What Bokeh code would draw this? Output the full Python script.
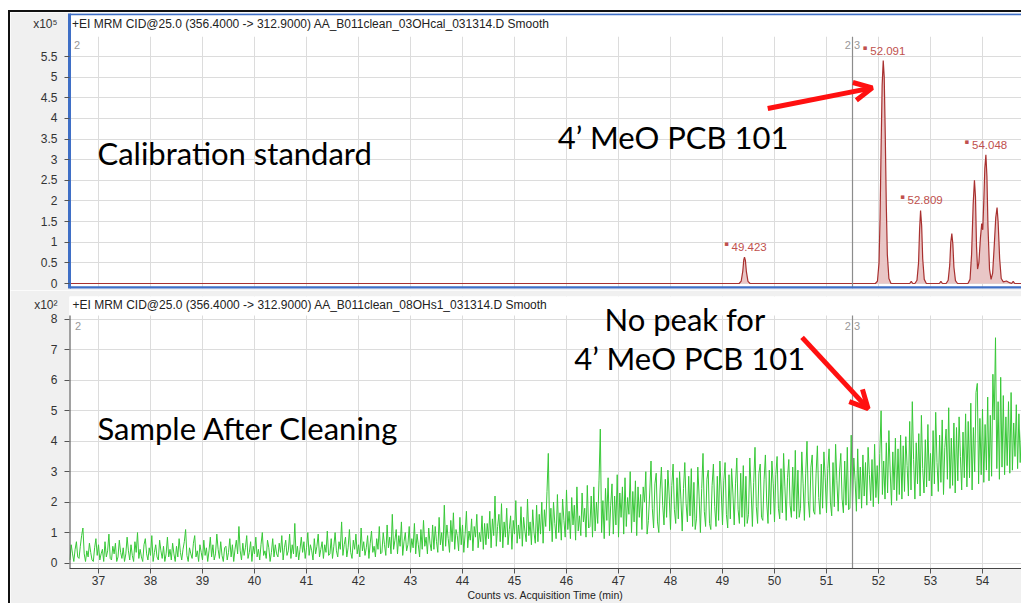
from bokeh.plotting import figure
from bokeh.layouts import column, row, Spacer
from bokeh.models import Range1d, FixedTicker, Span, Label, Arrow, OpenHead
from bokeh.core.properties import value
from bokeh.embed import file_html
from bokeh.resources import INLINE

# ---------------- data ----------------
X_TICKS = list(range(37, 55))
X_START, X_END = 36.442, 54.75
SEGMENT_BREAK = 51.5

TOP_Y_TICKS = [0, 0.5, 1, 1.5, 2, 2.5, 3, 3.5, 4, 4.5, 5, 5.5]
TOP_Y_LABELS = ["0", "0.5", "1", "1.5", "2", "2.5", "3", "3.5", "4", "4.5", "5", "5.5"]
BOT_Y_TICKS = [0, 1, 2, 3, 4, 5, 6, 7, 8]
BOT_Y_LABELS = ["0", "1", "2", "3", "4", "5", "6", "7", "8"]
TOP_SCALE_LABEL = "x10\u2075"
BOT_SCALE_LABEL = "x10\u00b2"

# calibration standard trace (counts x10^5)
TOP_TIME = [36.44, 49.32, 49.36, 49.39, 49.41, 49.423, 49.44, 49.46, 49.49, 49.53,
            51.94, 51.98, 52.01, 52.03, 52.05, 52.07, 52.091, 52.11, 52.13, 52.15, 52.17, 52.20, 52.24,
            52.60, 52.63, 52.66,
            52.70, 52.74, 52.77, 52.79, 52.809, 52.83, 52.85, 52.88, 52.92,
            53.17, 53.20, 53.23,
            53.30, 53.34, 53.37, 53.39, 53.41, 53.43, 53.45, 53.48, 53.52,
            53.72, 53.76, 53.79, 53.82, 53.845, 53.865, 53.885, 53.905, 53.93, 53.96, 53.985, 54.005,
            54.025, 54.045, 54.065, 54.085, 54.105, 54.135, 54.165, 54.195, 54.225, 54.255, 54.28, 54.30,
            54.33, 54.36, 54.40, 54.46, 54.52, 54.56, 54.59, 54.62, 54.75]
TOP_COUNTS = [0.0, 0.0, 0.06, 0.3, 0.58, 0.64, 0.56, 0.28, 0.05, 0.0,
              0.0, 0.06, 0.5, 1.6, 3.3, 4.8, 5.40, 5.0, 3.6, 1.9, 0.7, 0.12, 0.0,
              0.0, 0.05, 0.0,
              0.0, 0.08, 0.5, 1.3, 1.77, 1.4, 0.6, 0.1, 0.0,
              0.0, 0.05, 0.0,
              0.0, 0.08, 0.45, 1.0, 1.21, 0.95, 0.4, 0.07, 0.0,
              0.0, 0.1, 0.7, 1.9, 2.50, 2.1, 0.9, 0.35, 0.5, 1.1, 1.45, 1.3,
              2.0, 2.8, 3.12, 2.6, 1.4, 0.35, 0.1, 0.25, 0.9, 1.6, 1.84, 1.5,
              0.6, 0.12, 0.04, 0.06, 0.02, 0.0, 0.05, 0.0, 0.0]

PEAK_RT = [49.423, 52.091, 52.809, 54.048]
PEAK_HEIGHT = [0.64, 5.40, 1.77, 3.12]
PEAK_LABELS = ["49.423", "52.091", "52.809", "54.048"]

# sample after cleaning (counts x10^2), sampled every 0.025 min from 36.45
SAMPLE_START = 36.45
SAMPLE_STEP = 0.025
BOT_COUNTS = [
    0.1, 0.6, 0.3, 0.05, 0.45, 0.7, 0.2, 0.15, 0.55, 0.9, 1.15, 0.3, 0.05, 0.4, 0.2, 0.65, 0.35, 0.1, 0.05, 0.5,
    0.8, 0.25, 0.6, 0.1, 0.3, 0.45, 0.05, 0.7, 0.2, 0.4, 0.95, 0.15, 0.1, 0.55, 0.3, 0.65, 0.05, 0.2, 0.75, 0.35,
    0.15, 0.5, 0.05, 0.3, 0.85, 0.4, 0.1, 0.6, 0.25, 0.05, 0.7, 0.35, 1.0, 0.15, 0.45, 0.2, 0.05, 0.6, 0.8, 0.3,
    0.1, 0.5, 0.25, 0.9, 0.05, 0.35, 0.6, 0.2, 0.1, 0.75, 0.4, 0.15, 0.55, 0.05, 0.3, 0.85, 0.2, 0.45, 0.1, 0.65,
    0.3, 0.05, 0.55, 0.2, 0.8, 0.35, 0.1, 0.45, 0.7, 1.1, 0.25, 0.05, 0.5, 0.3, 0.15, 0.65, 0.9, 0.2, 0.4, 0.05,
    0.6, 0.35, 0.1, 0.75, 0.25, 0.5, 0.05, 0.4, 0.85, 0.2, 0.6, 0.1, 0.3, 0.95, 0.45, 0.15, 0.7, 0.25, 0.05, 0.5,
    0.55, 0.1, 0.35, 0.8, 0.2, 0.6, 0.05, 0.45, 0.75, 0.3, 1.2, 0.4, 0.1, 0.65, 0.25, 0.5, 0.9, 0.15, 0.35, 0.7,
    0.05, 0.55, 0.3, 0.85, 0.2, 0.45, 0.1, 0.6, 1.0, 0.25, 0.4, 0.15, 0.75, 0.5, 0.05, 0.35, 0.8, 0.2, 0.6, 0.3,
    0.2, 0.65, 0.35, 0.9, 0.1, 0.5, 0.75, 0.25, 0.4, 0.95, 0.15, 0.6, 0.3, 1.3, 0.2, 0.55, 0.1, 0.45, 0.85, 0.35,
    0.7, 0.15, 0.5, 1.0, 0.25, 0.6, 0.4, 0.1, 0.8, 0.3, 0.55, 0.95, 0.2, 0.45, 0.7, 0.15, 0.6, 0.35, 1.05, 0.25,
    0.3, 0.8, 0.15, 0.55, 1.0, 0.4, 0.2, 0.7, 0.45, 1.35, 0.25, 0.6, 0.85, 0.2, 0.5, 1.1, 0.35, 0.15, 0.75, 0.45,
    0.95, 0.3, 0.6, 0.2, 1.15, 0.4, 0.7, 0.25, 0.5, 0.9, 0.15, 0.65, 1.05, 0.35, 0.55, 0.2, 0.8, 0.45, 1.2, 0.3,
    0.35, 1.0, 0.6, 0.25, 1.25, 0.5, 0.85, 0.3, 1.6, 0.45, 0.75, 1.1, 0.3, 0.9, 0.55, 1.35, 0.25, 0.7, 1.0, 0.4,
    0.6, 1.2, 0.35, 0.8, 0.5, 1.3, 0.3, 0.95, 0.6, 0.2, 1.1, 0.45, 1.4, 0.55, 0.85, 0.3, 1.15, 0.65, 0.4, 1.25,
    0.45, 1.2, 0.7, 0.35, 1.5, 0.6, 1.0, 0.4, 1.9, 0.55, 1.25, 0.8, 0.35, 1.4, 0.7, 1.65, 0.45, 1.1, 0.9, 0.4,
    1.5, 0.6, 1.25, 0.35, 0.95, 1.7, 0.5, 1.05, 0.75, 1.45, 0.4, 1.2, 0.85, 1.6, 0.5, 1.0, 0.7, 1.55, 0.45, 1.3,
    0.6, 1.3, 0.8, 1.7, 0.5, 1.45, 0.9, 2.2, 0.55, 1.2, 1.6, 0.7, 1.95, 0.5, 1.35, 0.85, 1.8, 0.6, 1.1, 1.55,
    0.45, 1.4, 0.95, 2.05, 0.65, 1.25, 0.8, 1.85, 0.55, 1.5, 1.05, 0.7, 2.1, 0.9, 1.35, 0.6, 1.75, 1.0, 0.65, 1.9,
    0.7, 1.6, 0.95, 2.0, 0.65, 1.75, 1.2, 2.35, 3.6, 1.05, 1.8, 0.7, 2.0, 1.3, 0.8, 2.25, 1.0, 1.65, 0.75, 2.1,
    1.4, 0.85, 2.4, 1.1, 1.7, 0.8, 2.15, 1.25, 1.9, 0.75, 2.5, 1.05, 1.55, 0.9, 2.3, 1.35, 1.8, 0.85, 2.55, 1.15,
    1.2, 2.2, 0.85, 2.5, 1.05, 2.0, 1.3, 2.7, 4.4, 1.0, 2.05, 0.8, 2.45, 1.4, 2.8, 0.9, 1.9, 2.6, 0.95, 2.2,
    1.25, 2.9, 0.85, 2.3, 1.5, 2.5, 0.95, 2.8, 1.2, 2.15, 1.6, 3.0, 1.0, 2.35, 1.35, 2.7, 0.9, 2.5, 1.5, 2.25,
    1.1, 2.5, 2.0, 3.0, 0.95, 1.4, 2.3, 3.35, 1.8, 1.15, 2.6, 2.95, 1.35, 1.0, 2.4, 3.15, 1.9, 1.25, 2.75, 1.5,
    3.05, 2.2, 1.1, 2.55, 3.25, 1.75, 1.3, 2.8, 1.45, 3.0, 2.1, 1.05, 2.45, 3.3, 1.95, 1.35, 2.85, 1.55, 3.1, 1.2,
    2.65, 1.1, 1.45, 3.15, 2.2, 1.0, 2.45, 3.6, 1.7, 1.2, 2.75, 3.05, 1.3, 1.1, 2.55, 3.25, 1.85, 1.2, 2.85, 1.4,
    3.35, 2.4, 1.25, 2.7, 3.3, 1.6, 1.15, 2.9, 1.45, 3.1, 2.3, 1.25, 2.6, 3.45, 1.75, 1.3, 2.95, 1.5, 3.2, 1.2,
    2.85, 1.3, 1.6, 3.45, 2.4, 1.2, 2.65, 3.8, 1.85, 1.3, 2.95, 3.25, 1.5, 1.4, 2.75, 3.55, 2.0, 1.3, 3.05, 1.6,
    3.35, 2.6, 1.35, 2.9, 3.5, 1.8, 1.45, 3.1, 1.65, 3.6, 2.5, 1.4, 2.8, 3.4, 1.9, 1.5, 3.15, 1.7, 3.7, 1.45,
    3.05, 1.5, 1.8, 3.65, 2.6, 1.4, 2.95, 4.0, 2.05, 1.5, 3.15, 3.55, 1.7, 1.6, 2.95, 3.85, 2.15, 1.6, 3.25, 1.8,
    3.65, 2.8, 1.65, 3.1, 3.75, 2.0, 1.55, 3.3, 1.85, 3.9, 2.7, 1.7, 3.0, 3.6, 2.1, 1.65, 3.35, 1.9, 3.8, 1.75,
    1.8, 4.2, 1.9, 3.45, 2.7, 1.7, 3.75, 2.1, 3.15, 1.8, 3.55, 2.2, 3.3, 1.9, 3.8, 2.9, 2.05, 3.4, 1.85, 3.9,
    2.15, 3.2, 1.95, 3.6, 5.0, 2.25, 3.35, 2.1, 3.95, 2.3, 4.35, 3.0, 1.9, 3.65, 2.4, 4.1, 2.05, 3.75, 2.25, 4.2,
    2.1, 3.85, 2.35, 4.15, 3.2, 2.2, 4.65, 2.4, 5.3, 3.4, 2.1, 3.95, 2.6, 4.25, 2.2, 4.85, 3.1, 2.3, 4.05, 2.5,
    4.55, 2.7, 3.6, 2.2, 4.35, 2.6, 4.95, 3.3, 2.35, 4.2, 2.65, 4.7, 2.25, 3.8, 4.4, 2.75, 5.1, 2.45, 4.1, 2.55,
    4.6, 2.3, 4.45, 2.7, 4.8, 3.5, 2.4, 4.3, 2.8, 4.9, 2.5, 4.65, 2.8, 5.25, 2.4, 4.45, 3.0, 5.6, 5.9, 2.6,
    4.75, 2.9, 5.05, 2.65, 4.55, 3.05, 5.45, 2.7, 4.85, 2.85, 6.2, 4.7, 7.4, 3.1, 5.3, 2.75, 6.1, 3.15, 5.5, 2.9,
    4.8, 3.2, 5.3, 2.95, 5.6, 3.05, 4.6, 3.5, 5.2, 3.1, 4.9, 3.3, 4.4,
]
BOT_TIME = [round(SAMPLE_START + i * SAMPLE_STEP, 4) for i in range(len(BOT_COUNTS))]

TOP_HEADER = "+EI MRM CID@25.0 (356.4000 -> 312.9000) AA_B011clean_03OHcal_031314.D  Smooth"
BOT_HEADER = "+EI MRM CID@25.0 (356.4000 -> 312.9000) AA_B011clean_08OHs1_031314.D  Smooth"
X_TITLE = "Counts vs. Acquisition Time (min)"

TOP_NOTE_TEXT = ["Calibration standard", "4\u2019 MeO PCB 101"]
TOP_NOTE_X = [36.98, 45.83]
TOP_NOTE_Y = [3.15, 3.54]
BOT_NOTE_TEXT = ["No peak for", "4\u2019 MeO PCB 101", "Sample After Cleaning"]
BOT_NOTE_X = [46.73, 46.15, 36.98]
BOT_NOTE_Y = [8.03, 6.75, 4.43]

# ---------------- styling ----------------
GRID = "#dcdcdc"
BLUE = "#3f6fc6"
DARK_RED = "#a8302f"
PINK = "#e9c6c6"
LABEL_RED = "#c0504d"
GREEN = "#38c838"
TICK_FONT = "Liberation Sans"
BIG_FONT = "Lato"
BG = "#f0f0f0"

TOP_YR = (-0.121, 6.542)
TOP_HEAD = 5.98
TOP_HEAD_Y = 6.276
BOT_YR = (-0.18, 8.754)
BOT_HEAD = 8.13
BOT_HEAD_Y = 8.46


def base_fig(height, yr, top, bottom, xloc):
    p = figure(width=1011, height=height, x_range=Range1d(X_START, X_END),
               y_range=Range1d(*yr), output_backend="svg", toolbar_location=None,
               title=None, x_axis_location=xloc,
               min_border_left=59, min_border_right=0,
               min_border_top=top, min_border_bottom=bottom)
    p.border_fill_color = BG
    p.background_fill_color = "white"
    p.outline_line_color = None
    p.xgrid.ticker = FixedTicker(ticks=X_TICKS)
    p.grid.grid_line_color = GRID
    p.grid.grid_line_width = 1
    for ax in p.yaxis:
        ax.major_label_text_font = TICK_FONT
        ax.major_label_text_font_size = "12px"
        ax.major_label_text_color = "#333333"
        ax.major_tick_out = 0
        ax.major_tick_in = 0
        ax.minor_tick_out = 5
        ax.minor_tick_in = 0
        ax.minor_tick_line_color = "#555555"
        ax.major_label_standoff = 7
    return p

# ---------------- top panel ----------------
p1 = base_fig(278, TOP_YR, 1, 2, None)
p1.yaxis.ticker = FixedTicker(ticks=TOP_Y_TICKS + [TOP_HEAD_Y], minor_ticks=TOP_Y_TICKS)
p1.ygrid.ticker = FixedTicker(ticks=TOP_Y_TICKS)
overrides = {t: l for t, l in zip(TOP_Y_TICKS, TOP_Y_LABELS)}
overrides[TOP_HEAD_Y] = TOP_SCALE_LABEL
p1.yaxis.major_label_overrides = overrides
p1.yaxis.axis_line_color = BLUE
p1.yaxis.axis_line_width = 3

p1.varea(x=TOP_TIME, y1=[0] * len(TOP_TIME), y2=TOP_COUNTS, fill_color=PINK)
p1.line(TOP_TIME, TOP_COUNTS, line_color=DARK_RED, line_width=1.2)
p1.quad(left=[X_START], right=[X_END], bottom=[TOP_HEAD], top=[TOP_YR[1]],
        fill_color="white", line_color=None)
p1.segment(x0=[SEGMENT_BREAK], x1=[SEGMENT_BREAK], y0=[TOP_YR[0]], y1=[TOP_HEAD],
           line_color="#8c8c8c", line_width=1.2)
p1.add_layout(Span(location=TOP_YR[1] - 0.02, dimension="width", line_color=BLUE, line_width=2))
p1.add_layout(Span(location=TOP_YR[0] + 0.02, dimension="width", line_color=BLUE, line_width=3))

p1.text(x=[36.53], y=[5.79], text=["2"], text_font=value(TICK_FONT), text_font_size="11px",
        text_color="#999999", text_baseline="middle")
p1.text(x=[SEGMENT_BREAK - 0.03, SEGMENT_BREAK + 0.03], y=[5.79, 5.79], text=["2", "3"],
        text_align=["right", "left"], text_font=value(TICK_FONT), text_font_size="11px",
        text_color="#999999", text_baseline="middle")

p1.text(x=PEAK_RT, y=PEAK_HEIGHT, text=PEAK_LABELS, x_offset=-13, y_offset=-10,
        text_font=value(TICK_FONT), text_font_size="11.5px", text_color=LABEL_RED,
        text_baseline="middle", text_align="left")
p1.text(x=PEAK_RT, y=PEAK_HEIGHT, text=["\u25aa"] * 4, x_offset=-18, y_offset=-13,
        text_font=value("DejaVu Sans"), text_font_size="7px", text_color=LABEL_RED,
        text_baseline="middle", text_align="center")

p1.text(x=TOP_NOTE_X, y=TOP_NOTE_Y, text=TOP_NOTE_TEXT, text_font=value(BIG_FONT),
        text_font_size="31px", text_color="black", text_baseline="middle", text_align="left")

p1.add_layout(Label(x=36.49, y=TOP_HEAD_Y, text=TOP_HEADER, text_font=TICK_FONT,
                    text_font_size="12px", text_color="#222222", text_baseline="middle"))

p1.add_layout(Arrow(end=OpenHead(line_color="#ff1010", line_width=5, size=18),
                    x_start=49.87, y_start=4.24, x_end=51.88, y_end=4.74,
                    line_color="#ff1010", line_width=5))

# ---------------- bottom panel ----------------
p2 = base_fig(313, BOT_YR, 6, 34, "below")
p2.yaxis.ticker = FixedTicker(ticks=BOT_Y_TICKS + [BOT_HEAD_Y], minor_ticks=BOT_Y_TICKS)
p2.ygrid.ticker = FixedTicker(ticks=BOT_Y_TICKS)
overrides2 = {t: l for t, l in zip(BOT_Y_TICKS, BOT_Y_LABELS)}
overrides2[BOT_HEAD_Y] = BOT_SCALE_LABEL
p2.yaxis.major_label_overrides = overrides2
p2.yaxis.axis_line_color = None
xa = p2.xaxis[0]
xa.ticker = FixedTicker(ticks=X_TICKS)
xa.major_label_text_font = TICK_FONT
xa.major_label_text_font_size = "12px"
xa.major_label_text_color = "#333333"
xa.major_tick_out = 5
xa.major_tick_in = 0
xa.minor_tick_out = 0
xa.minor_tick_in = 0
xa.axis_line_color = "#444444"
xa.major_tick_line_color = "#555555"
xa.major_label_standoff = 2
xa.axis_label = X_TITLE
xa.axis_label_text_font = TICK_FONT
xa.axis_label_text_font_size = "10.5px"
xa.axis_label_text_font_style = "normal"
xa.axis_label_text_color = "#222222"
xa.axis_label_standoff = 1

p2.line(BOT_TIME, BOT_COUNTS, line_color=GREEN, line_width=1)
p2.quad(left=[X_START], right=[X_END], bottom=[BOT_HEAD], top=[BOT_YR[1]],
        fill_color="white", line_color=None)
p2.segment(x0=[X_START], x1=[X_START], y0=[BOT_YR[0]], y1=[BOT_HEAD],
           line_color="#444444", line_width=2)
p2.segment(x0=[SEGMENT_BREAK], x1=[SEGMENT_BREAK], y0=[BOT_YR[0]], y1=[BOT_HEAD],
           line_color="#8c8c8c", line_width=1.2)
p2.text(x=[36.55], y=[7.8], text=["2"], text_font=value(TICK_FONT), text_font_size="11px",
        text_color="#999999", text_baseline="middle")
p2.text(x=[SEGMENT_BREAK - 0.03, SEGMENT_BREAK + 0.03], y=[7.8, 7.8], text=["2", "3"],
        text_align=["right", "left"], text_font=value(TICK_FONT), text_font_size="11px",
        text_color="#999999", text_baseline="middle")
p2.text(x=BOT_NOTE_X, y=BOT_NOTE_Y, text=BOT_NOTE_TEXT, text_font=value(BIG_FONT),
        text_font_size="31px", text_color="black", text_baseline="middle", text_align="left")

p2.add_layout(Label(x=36.5, y=BOT_HEAD_Y, text=BOT_HEADER, text_font=TICK_FONT,
                    text_font_size="12px", text_color="#222222", text_baseline="middle"))

p2.add_layout(Arrow(end=OpenHead(line_color="#ff1010", line_width=5, size=18),
                    x_start=50.53, y_start=7.41, x_end=51.80, y_end=5.07,
                    line_color="#ff1010", line_width=5))

inner = column(p1, p2, spacing=0,
               styles={"border-left": "2px solid #111", "border-top": "2px solid #111"})
layout = column(Spacer(height=10), row(Spacer(width=8), inner, spacing=0), spacing=0)

open("out.html", "w").write(file_html(layout, INLINE))
